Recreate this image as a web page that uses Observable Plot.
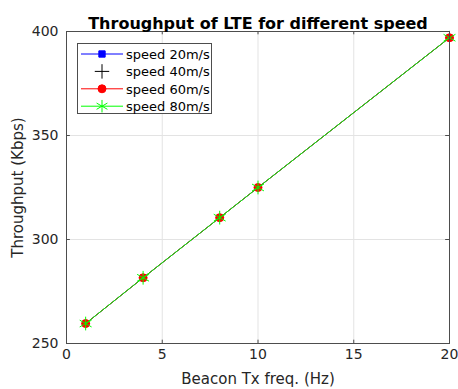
<!DOCTYPE html>
<html>
<head>
<meta charset="utf-8">
<script src="https://cdn.jsdelivr.net/npm/d3@7"></script>
<script src="https://cdn.jsdelivr.net/npm/@observablehq/plot@0.6"></script>
<style>
  html, body { margin: 0; padding: 0; background: #fff; }
  #wrap { position: relative; width: 458px; height: 389px; font-family: "DejaVu Sans", sans-serif; }
  #legend { position: absolute; left: 77px; top: 43px; }
</style>
</head>
<body>
<div id="wrap"></div>
<script>
// ---- data ----
const freqs = [1, 4, 8, 10, 20];
const speed20 = [259.6, 281.6, 310.5, 325.0, 397.0];
const speed40 = [259.6, 281.6, 310.5, 325.0, 397.0];
const speed60 = [259.6, 281.6, 310.5, 325.0, 397.0];
const speed80 = [259.6, 281.6, 310.5, 325.0, 397.0];
const seriesNames = ["speed 20m/s", "speed 40m/s", "speed 60m/s", "speed 80m/s"];
const xTicks = [0, 5, 10, 15, 20];
const yTicks = [250, 300, 350, 400];
const titleText = "Throughput of LTE for different speed";
const xLabel = "Beacon Tx freq. (Hz)";
const yLabel = "Throughput (Kbps)";

const styles = [
  {color: "#0000ff", symbol: "square", fill: true, line: true, r: 3},
  {color: "#000000", symbol: "plus", fill: false, line: false, r: 2.6},
  {color: "#ff0000", symbol: "circle", fill: true, line: true, r: 4},
  {color: "#00ff00", symbol: "asterisk", fill: false, line: true, r: 6.5}
];
const seriesVals = [speed20, speed40, speed60, speed80];

const axisColor = "#4d4d4d";
const textColor = "#262626";

const marks = [];
// grid
marks.push(Plot.ruleX(xTicks, {y1: 250, y2: 400, stroke: "#e3e3e3", strokeWidth: 1}));
marks.push(Plot.ruleY(yTicks, {x1: 0, x2: 20, stroke: "#e3e3e3", strokeWidth: 1}));

// series
seriesVals.forEach((vals, i) => {
  const s = styles[i];
  const rows = freqs.map((f, j) => ({x: f, y: vals[j]}));
  if (s.line) marks.push(Plot.line(rows, {x: "x", y: "y", stroke: s.color, strokeWidth: 1}));
  marks.push(Plot.dot(rows, {
    x: "x", y: "y", symbol: () => s.symbol, r: s.r,
    fill: s.fill ? s.color : "none",
    stroke: s.color, strokeWidth: 1
  }));
});

// frame box
marks.push(Plot.frame({stroke: axisColor, strokeWidth: 1}));
// inward ticks (bottom & top)
marks.push(Plot.ruleX(xTicks, {y1: 250, y2: 251.6, stroke: axisColor}));
marks.push(Plot.ruleX(xTicks, {y1: 398.4, y2: 400, stroke: axisColor}));
// inward ticks (left & right)
marks.push(Plot.ruleY(yTicks, {x1: 0, x2: 0.2, stroke: axisColor}));
marks.push(Plot.ruleY(yTicks, {x1: 19.8, x2: 20, stroke: axisColor}));

// axes labels
marks.push(Plot.axisX(xTicks, {tickSize: 0, tickPadding: 6, fontSize: 14, color: textColor,
  label: xLabel, labelAnchor: "center", labelArrow: "none", labelOffset: 40}));
marks.push(Plot.axisY(yTicks, {tickSize: 0, tickPadding: 8, fontSize: 14, color: textColor,
  label: yLabel, labelAnchor: "center", labelArrow: "none", labelOffset: 54}));

// title
marks.push(Plot.text([titleText], {frameAnchor: "top", dy: -14, text: d => d,
  fontSize: 16, fontWeight: "bold", fill: "#000"}));

const chart = Plot.plot({
  width: 458,
  height: 389,
  marginLeft: 66,
  marginRight: 9,
  marginTop: 31,
  marginBottom: 46,
  style: {fontFamily: "DejaVu Sans, sans-serif", fontSize: "15px", color: textColor, background: "#fff", overflow: "visible"},
  x: {domain: [0, 20]},
  y: {domain: [250, 400]},
  marks
});

const wrap = document.getElementById("wrap");
wrap.appendChild(chart);
chart.querySelectorAll("[aria-label='x-axis label'] text, [aria-label='y-axis label'] text").forEach(t => t.setAttribute("font-size", "15"));

// legend
const lw = 134, lh = 70;
const leg = d3.create("svg").attr("id", "legend").attr("width", lw + 1).attr("height", lh + 1);
leg.append("rect").attr("x", 0.5).attr("y", 0.5).attr("width", lw).attr("height", lh)
  .attr("fill", "#fff").attr("stroke", axisColor);
seriesNames.forEach((name, i) => {
  const s = styles[i];
  const cy = 11 + i * 17.4;
  const g = leg.append("g");
  if (s.line) g.append("line").attr("x1", 4).attr("x2", 46).attr("y1", cy).attr("y2", cy)
    .attr("stroke", s.color).attr("stroke-width", 1);
  const sym = {square: d3.symbolSquare, plus: d3.symbolPlus, circle: d3.symbolCircle, asterisk: d3.symbolAsterisk}[s.symbol];
  const size = {square: 40, plus: 70, circle: 50, asterisk: 110}[s.symbol];
  g.append("path").attr("d", d3.symbol(sym, size)()).attr("transform", `translate(25,${cy})`)
    .attr("fill", s.fill ? s.color : "none").attr("stroke", s.color).attr("stroke-width", 1);
  g.append("text").attr("x", 49).attr("y", cy + 5).attr("font-size", 13).attr("fill", "#000")
    .attr("font-family", "DejaVu Sans, sans-serif").text(name);
});
wrap.appendChild(leg.node());
</script>
</body>
</html>
